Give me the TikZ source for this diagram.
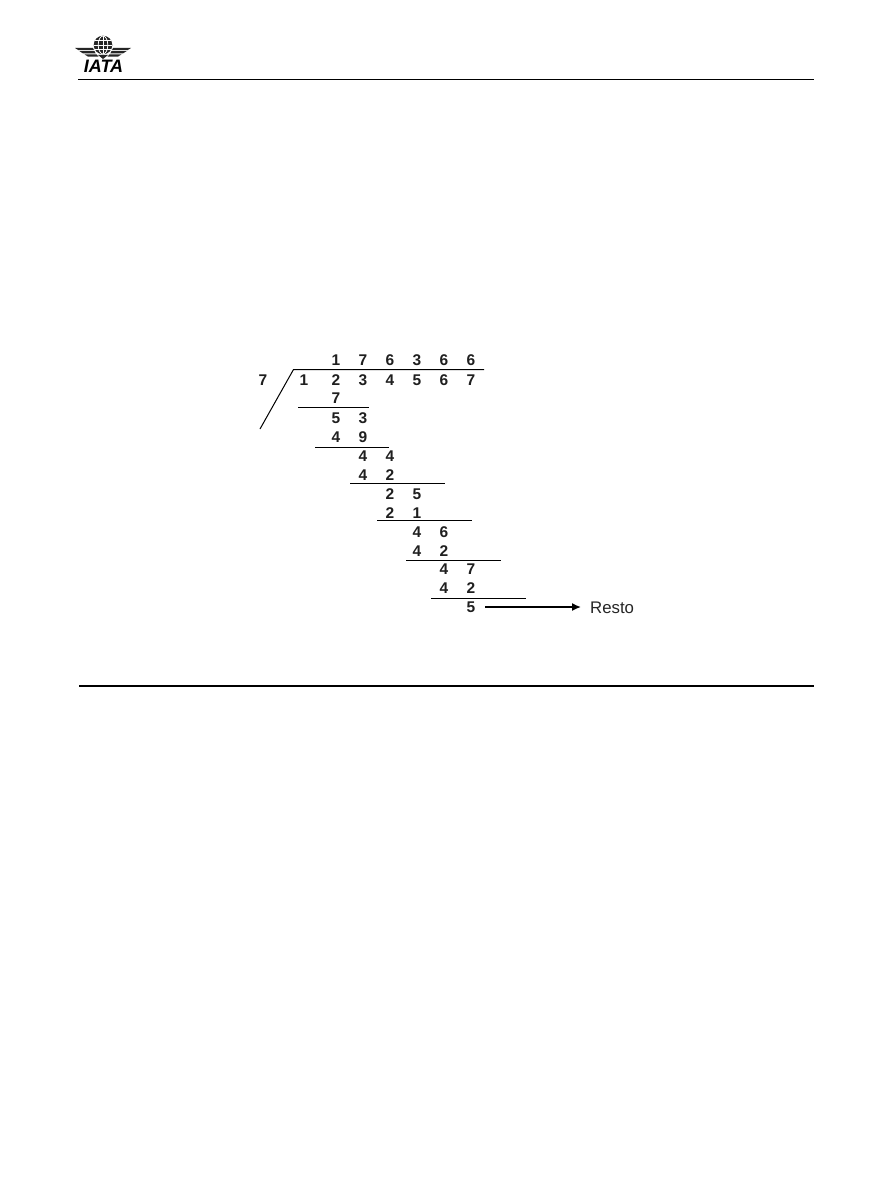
\documentclass[tikz,border=0pt]{standalone}
\usepackage{fontspec}
\setmainfont{Liberation Sans}
\usetikzlibrary{arrows.meta}
\tikzset{
  digit/.style={font=\fontsize{15.5}{15.5}\selectfont\bfseries, text=black!88, inner sep=0pt, anchor=center},
  rule/.style={line width=1pt, black},
  lbl/.style={font=\fontsize{16.8}{16.8}\selectfont, text=black!85, inner sep=0pt, anchor=west},
}
\newcommand{\dg}[3]{\node[digit] (d#1x#2) at (#1,-#2) {#3};}
\newcommand{\hr}[4]{\coordinate (#4a) at (#1,-#3); \coordinate (#4b) at (#2,-#3); \draw[rule] (#4a) -- (#4b);}
\begin{document}
\begin{tikzpicture}[x=1pt,y=1pt]
\useasboundingbox (0,0) rectangle (891,-1188);
\fill[white] (0,0) rectangle (891,-1188);
% header and footer rules
\hr{78}{814}{79.5}{head}
\coordinate (foota) at (79,-686); \coordinate (footb) at (814,-686);
\draw[black,line width=1.9pt] (foota) -- (footb);
% logo: globe
\begin{scope}[shift={(103,-45)}]
  \fill[black!85] (0,0) circle (9.3);
  \draw[white,line width=.75pt] (-8.6,0) -- (8.6,0) (0,-9) -- (0,9)
     (-7.6,4.6) -- (7.6,4.6) (-7.6,-4.6) -- (7.6,-4.6);
  \draw[white,line width=.75pt] (0,0) ellipse (4.8 and 9);
  % wings
  \foreach \s in {-1,1}{
    \fill[black!85] (\s*28,-3) -- (\s*10,-3) -- (\s*9,-5.2) -- (\s*24.5,-5.2) -- cycle;
    \fill[black!85] (\s*23.5,-6.2) -- (\s*8.5,-6.2) -- (\s*7.3,-8.4) -- (\s*20,-8.4) -- cycle;
    \fill[black!85] (\s*18.5,-9.4) -- (\s*6.5,-9.4) -- (\s*4.5,-11.6) -- (\s*15,-11.6) -- cycle;
  }
  \fill[black!85] (-5,-10) -- (5,-10) -- (0,-14) -- cycle;
\end{scope}
\node[inner sep=0pt,text=black,font=\fontsize{18}{18}\selectfont\bfseries\itshape] (logotext) at (103.5,-66.5) {IATA};
% division bracket
\coordinate (bracketR) at (484,-369.5);
\coordinate (bracketT) at (293.5,-369.5);
\coordinate (bracketB) at (260,-429);
\draw[rule,line join=miter] (bracketR) -- (bracketT) -- (bracketB);
% step rules
\hr{298}{369}{407.5}{ra}
\hr{315}{389}{447}{rb}
\hr{350}{445}{483.5}{rc}
\hr{377}{472}{520.5}{rd}
\hr{406}{501}{560.5}{re}
\hr{431}{526}{598}{rf}
% quotient
\dg{336}{360.5}{1}\dg{363}{360.5}{7}\dg{390}{360.5}{6}\dg{417}{360.5}{3}\dg{444}{360.5}{6}\dg{471}{360.5}{6}
% dividend
\dg{263}{380}{7}
\dg{304}{380}{1}\dg{336}{380}{2}\dg{363}{380}{3}\dg{390}{380}{4}\dg{417}{380}{5}\dg{444}{380}{6}\dg{471}{380}{7}
% steps
\dg{336}{398.5}{7}
\dg{336}{418}{5}\dg{363}{418}{3}
\dg{336}{437}{4}\dg{363}{437}{9}
\dg{363}{456}{4}\dg{390}{456}{4}
\dg{363}{475}{4}\dg{390}{475}{2}
\dg{390}{494}{2}\dg{417}{494}{5}
\dg{390}{513}{2}\dg{417}{513}{1}
\dg{417}{532}{4}\dg{444}{532}{6}
\dg{417}{551}{4}\dg{444}{551}{2}
\dg{444}{569.5}{4}\dg{471}{569.5}{7}
\dg{444}{588}{4}\dg{471}{588}{2}
\dg{471}{607}{5}
% remainder arrow
\node[lbl] (resto) at (590,-607.5) {Resto};
\coordinate (arrowstart) at (485,-607);
\coordinate (arrowend) at (581,-607);
\draw[black,line width=1.5pt,-{Latex[length=9pt,width=8pt]}] (arrowstart) -- (arrowend);
\end{tikzpicture}
\end{document}
